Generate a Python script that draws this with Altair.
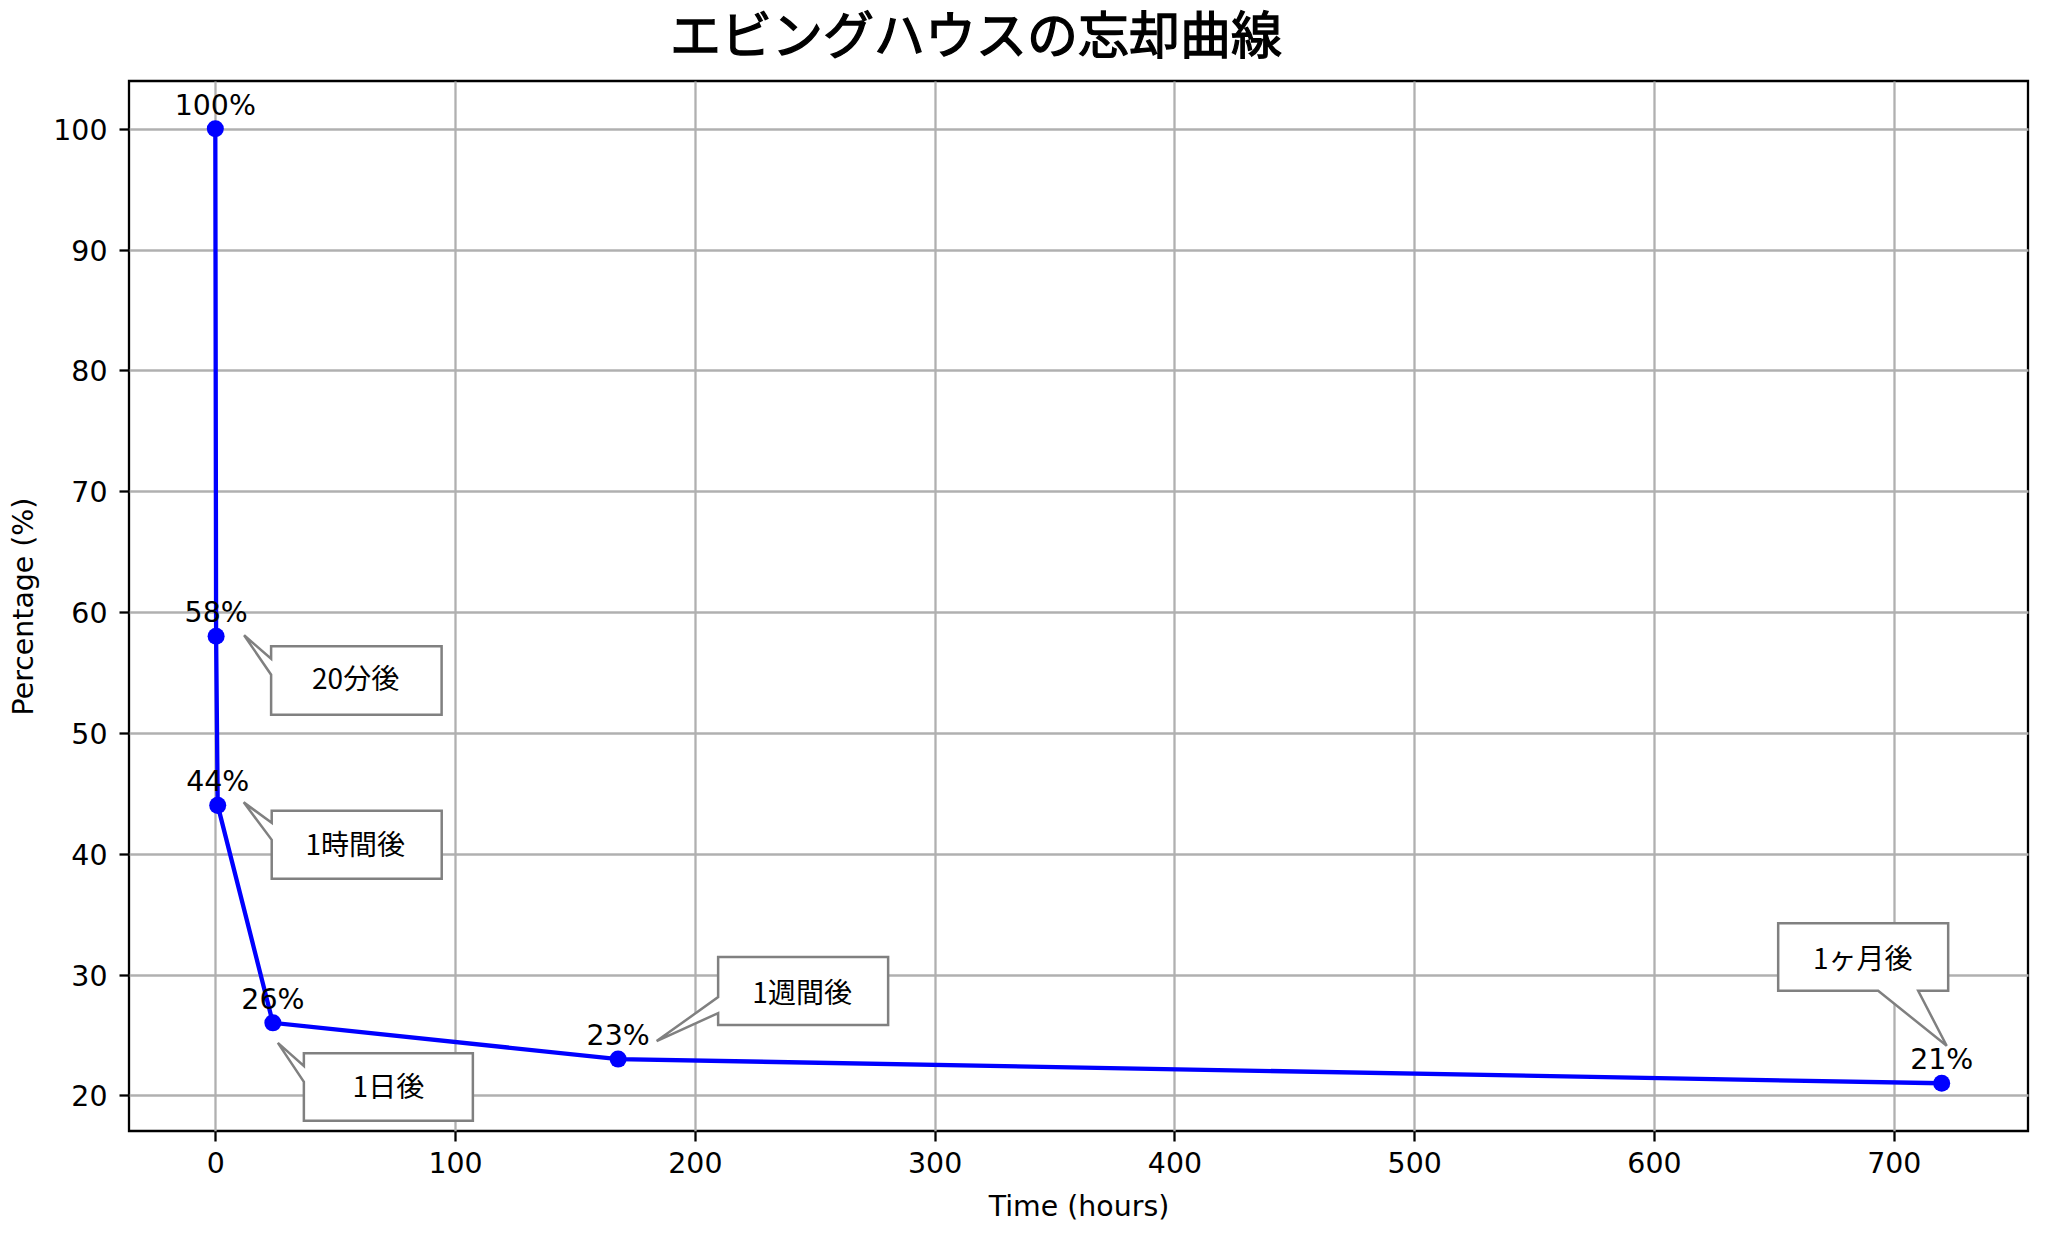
import altair as alt
import pandas as pd

# ---------------- data ----------------
hours = [0, 0.33, 1, 24, 168, 720]
retention = [100, 58, 44, 26, 23, 21]
callout_labels = ["", "20分後", "1時間後", "1日後", "1週間後", "1ヶ月後"]

x_ticks = [0, 100, 200, 300, 400, 500, 600, 700]
y_ticks = [20, 30, 40, 50, 60, 70, 80, 90, 100]

title_text = "エビングハウスの忘却曲線"
x_title = "Time (hours)"
y_title = "Percentage (%)"

df = pd.DataFrame({
    "hours": hours,
    "pct": retention,
    "label": [f"{v}%" for v in retention],
    "callout": callout_labels,
})
title_df = pd.DataFrame({"t": [title_text]})

# ---------------- callout styling (pixel offsets relative to the data point) ----------------
CALLOUT_STYLE = {
    "20分後":  dict(box=(55, 10, 225.5, 78.5), tip=(28, -1), side="left", base=(22.5, 38.5), text=(139.5, 45)),
    "1時間後": dict(box=(54, 5.5, 224, 73.5), tip=(26, -3), side="left", base=(17.5, 34.5), text=(137.5, 42)),
    "1日後":   dict(box=(31, 30.5, 200, 98), tip=(5, 20), side="left", base=(43, 59), text=(115.5, 66)),
    "1週間後": dict(box=(100, -102, 270, -34), tip=(38.5, -18), side="left", base=(-62, -46), text=(184, -64)),
    "1ヶ月後": dict(box=(-163.5, -160, 6.5, -92.5), tip=(5, -37.5), side="bottom", base=(-63.5, -23.5), text=(-79, -122)),
}


def callout_path(box, tip, side, base):
    L, T, R, B = box
    tx, ty = tip
    b0, b1 = base
    if side == "left":
        pts = [(tx, ty), (L, b0), (L, T), (R, T), (R, B), (L, B), (L, b1)]
    else:  # bottom
        pts = [(tx, ty), (b1, B), (R, B), (R, T), (L, T), (L, B), (b0, B)]
    return "M" + " L".join(f"{x:.1f},{y:.1f}" for x, y in pts) + " Z"


# ---------------- chart ----------------
PLOT_W, PLOT_H = 1899, 1050

x_enc = alt.X(
    "hours:Q",
    scale=alt.Scale(domain=[-36, 756], nice=False, zero=False),
    axis=alt.Axis(values=x_ticks, title=x_title, labelPadding=9,
                  titleX=PLOT_W / 2, titleY=84, titleBaseline="alphabetic", titleAlign="center"),
)
y_enc = alt.Y(
    "pct:Q",
    scale=alt.Scale(domain=[17.05, 103.95], nice=False, zero=False),
    axis=alt.Axis(values=y_ticks, title=y_title, labelPadding=12,
                  labelBaseline="alphabetic", labelOffset=10.5,
                  titleX=-97, titleY=525, titleBaseline="alphabetic", titleAlign="center",
                  titleAngle=270),
)

base = alt.Chart(df).encode(x=x_enc, y=y_enc)

line = base.mark_line(color="#0000ff", strokeWidth=4.3)
points = base.mark_circle(color="#0000ff", size=290, opacity=1)
pct_text = base.mark_text(
    font="DejaVu Sans", fontSize=28.4, baseline="alphabetic", align="center",
    dy=-14, color="#000000",
).encode(text="label:N")

layers = [line, points, pct_text]
for name, st in CALLOUT_STYLE.items():
    sub = base.transform_filter(alt.datum.callout == name)
    shape = sub.mark_point(
        shape=callout_path(st["box"], st["tip"], st["side"], st["base"]),
        size=4, filled=True, fill="white", stroke="#808080", strokeWidth=2.5,
        opacity=1, fillOpacity=1, strokeOpacity=1, strokeJoin="miter",
    )
    txt = sub.mark_text(
        font="Noto Sans CJK JP", fontSize=28, align="center", baseline="middle",
        dx=st["text"][0], dy=st["text"][1], color="#000000",
    ).encode(text="callout:N")
    layers += [shape, txt]

# chart title (drawn as a text mark above the plot area)
title_mark = alt.Chart(title_df).mark_text(
    font="Noto Sans CJK JP", fontSize=51, fontWeight="normal", color="#000000",
    stroke="#000000", strokeWidth=1.3,
    align="center", baseline="alphabetic",
).encode(
    text="t:N",
    x=alt.value(PLOT_W / 2 - 102.5),
    y=alt.value(-27.5),
)
layers.append(title_mark)

chart = alt.layer(*layers).properties(
    width=PLOT_W,
    height=PLOT_H,
    autosize=alt.AutoSizeParams(type="none"),
    padding={"left": 121, "top": 73, "right": 10, "bottom": 95},
).configure_view(
    stroke="#000000", strokeWidth=2.3,
).configure_axis(
    labelFont="DejaVu Sans", labelFontSize=28.4, labelColor="#000000",
    titleFont="DejaVu Sans", titleFontSize=28.4, titleFontWeight="normal", titleColor="#000000",
    tickSize=10, tickWidth=2.3, tickColor="#000000",
    domain=False, grid=True, gridColor="#b0b0b0", gridWidth=2.3,
)

chart.save("out.html", embed_options={"renderer": "svg", "actions": False})
